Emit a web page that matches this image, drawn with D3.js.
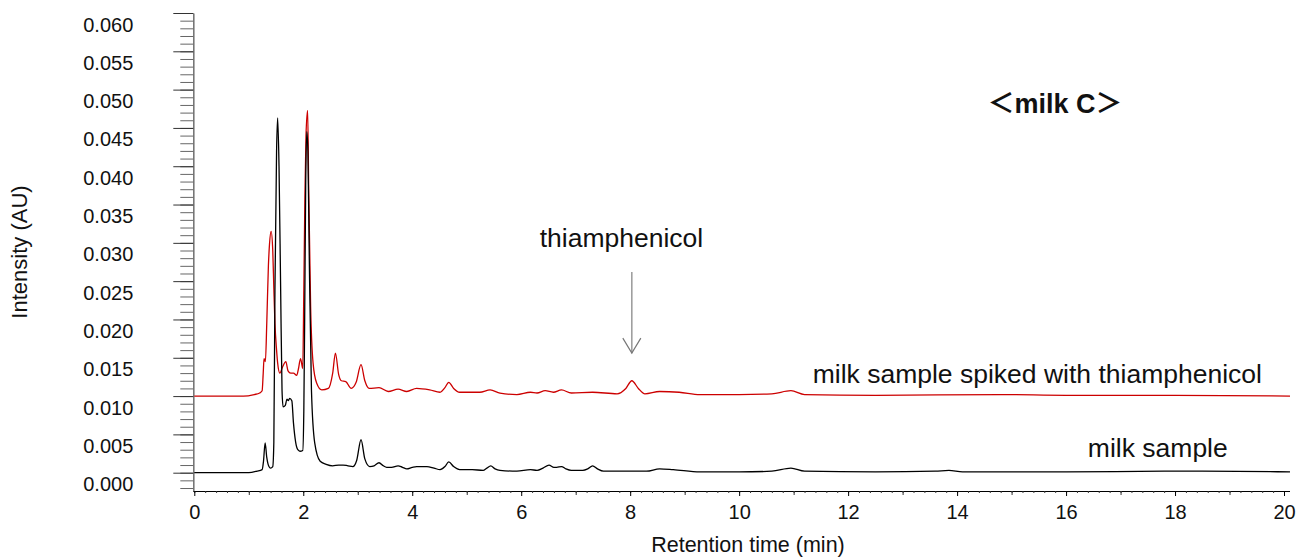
<!DOCTYPE html>
<html>
<head>
<meta charset="utf-8">
<script src="https://cdn.jsdelivr.net/npm/d3@7"></script>
<style>
  body { margin: 0; background: #fff; }
  text { font-family: "Liberation Sans", Arial, "Noto Sans CJK JP", sans-serif; fill: #111; }
</style>
</head>
<body>
<div id="chart"></div>
<script>
// milk sample (black trace)
var sampleTime = [0, 1.0, 1.15, 1.245, 1.27, 1.30, 1.33, 1.37, 1.40, 1.44, 1.46, 1.48, 1.51, 1.53, 1.555, 1.585, 1.61, 1.63, 1.67, 1.70, 1.725, 1.75, 1.79, 1.82, 1.86, 1.90, 1.94, 1.99, 2.01, 2.025, 2.045, 2.065, 2.085, 2.11, 2.15, 2.21, 2.31, 2.42, 2.54, 2.65, 2.73, 2.82, 2.91, 2.98, 3.06, 3.13, 3.22, 3.30, 3.39, 3.47, 3.53, 3.62, 3.74, 3.82, 3.90, 4.00, 4.08, 4.27, 4.40, 4.51, 4.60, 4.67, 4.76, 4.87, 5.10, 5.30, 5.37, 5.44, 5.52, 5.61, 5.92, 6.17, 6.29, 6.40, 6.51, 6.60, 6.65, 6.74, 6.82, 6.92, 7.13, 7.22, 7.31, 7.40, 7.51, 8.06, 8.30, 8.54, 8.79, 9.28, 10.0, 10.6, 10.95, 11.2, 12.5, 13.6, 13.85, 14.1, 16.0, 17.8, 18.5, 20.11];
var sampleAU = [0.0000, 0.0000, 0.0002, 0.0004, 0.0015, 0.0039, 0.0020, 0.0008, 0.0006, 0.0008, 0.0040, 0.0238, 0.0420, 0.0463, 0.0400, 0.0238, 0.0108, 0.0086, 0.0088, 0.0096, 0.0094, 0.0097, 0.0094, 0.0065, 0.0040, 0.0030, 0.0028, 0.0029, 0.0080, 0.0195, 0.0380, 0.0445, 0.0420, 0.0282, 0.0108, 0.0039, 0.0015, 0.0011, 0.0009, 0.0010, 0.0010, 0.0009, 0.0008, 0.0016, 0.0043, 0.0018, 0.0008, 0.0009, 0.0013, 0.0009, 0.0007, 0.0007, 0.0009, 0.0007, 0.0005, 0.0007, 0.0008, 0.0008, 0.0006, 0.0004, 0.0008, 0.0014, 0.0008, 0.0004, 0.0004, 0.0003, 0.0006, 0.0009, 0.0005, 0.0003, 0.0002, 0.0004, 0.0003, 0.0006, 0.0010, 0.0007, 0.0007, 0.0008, 0.0005, 0.0003, 0.0003, 0.0005, 0.0009, 0.0005, 0.0002, 0.0002, 0.0002, 0.0005, 0.0004, 0.0001, 0.0001, 0.0002, 0.0006, 0.0002, 0.0001, 0.0002, 0.0003, 0.0001, 0.0001, 0.0002, 0.0002, 0.0001];

// milk sample spiked with thiamphenicol (red trace)
var spikedTime = [0, 0.9, 1.1, 1.2, 1.245, 1.265, 1.28, 1.305, 1.33, 1.36, 1.38, 1.41, 1.44, 1.46, 1.48, 1.51, 1.53, 1.57, 1.62, 1.68, 1.72, 1.77, 1.82, 1.88, 1.91, 1.95, 1.99, 2.01, 2.03, 2.05, 2.08, 2.10, 2.135, 2.18, 2.245, 2.34, 2.46, 2.54, 2.59, 2.65, 2.70, 2.78, 2.88, 2.97, 3.06, 3.13, 3.21, 3.39, 3.56, 3.74, 3.90, 4.08, 4.32, 4.51, 4.60, 4.67, 4.76, 4.87, 5.24, 5.43, 5.61, 5.92, 6.17, 6.29, 6.44, 6.59, 6.74, 6.92, 7.31, 7.76, 7.92, 8.03, 8.15, 8.27, 8.54, 8.9, 9.28, 10.0, 10.6, 10.95, 11.2, 12.5, 14.8, 16.0, 18.0, 20.11];
var spikedAU = [0.0100, 0.0100, 0.0102, 0.0104, 0.0107, 0.0130, 0.0149, 0.0145, 0.0195, 0.0270, 0.0298, 0.0315, 0.0290, 0.0240, 0.0195, 0.0160, 0.0143, 0.0130, 0.0138, 0.0145, 0.0133, 0.0130, 0.0130, 0.0127, 0.0135, 0.0149, 0.0136, 0.0238, 0.0360, 0.0440, 0.0473, 0.0369, 0.0217, 0.0143, 0.0117, 0.0108, 0.0110, 0.0130, 0.0156, 0.0128, 0.0120, 0.0119, 0.0110, 0.0118, 0.0141, 0.0120, 0.0110, 0.0111, 0.0106, 0.0109, 0.0106, 0.0110, 0.0108, 0.0105, 0.0111, 0.0118, 0.0110, 0.0105, 0.0105, 0.0108, 0.0104, 0.0102, 0.0105, 0.0104, 0.0107, 0.0105, 0.0108, 0.0104, 0.0105, 0.0103, 0.0110, 0.0120, 0.0110, 0.0103, 0.0106, 0.0105, 0.0102, 0.0102, 0.0103, 0.0107, 0.0102, 0.0101, 0.0102, 0.0101, 0.0101, 0.0100];

var xTickLabels = [0, 2, 4, 6, 8, 10, 12, 14, 16, 18, 20];
var yTickLabels = ["0.000", "0.005", "0.010", "0.015", "0.020", "0.025", "0.030", "0.035", "0.040", "0.045", "0.050", "0.055", "0.060"];

var width = 1303, height = 558;

var x = d3.scaleLinear().domain([0, 20.11]).range([194.3, 1290]);
var y = d3.scaleLinear().domain([-0.00235, 0.060]).range([490.7, 13]);

var svg = d3.select("#chart").append("svg")
    .attr("width", width)
    .attr("height", height);

// y axis: minor ticks every 0.001
var yMinor = svg.append("g")
    .attr("transform", "translate(193.3,0)")
    .call(d3.axisLeft(y)
        .tickValues(d3.range(-2, 61).map(function(d){ return d / 1000; }))
        .tickSize(13)
        .tickSizeOuter(0)
        .tickFormat(""));
yMinor.select(".domain").attr("stroke", "#777").attr("stroke-width", 1.6);
yMinor.selectAll(".tick line").attr("stroke", "#666").attr("stroke-width", 1);

// y axis: major ticks and labels
var yMajor = svg.append("g")
    .attr("transform", "translate(193.3,0)")
    .call(d3.axisLeft(y)
        .tickValues(yTickLabels.map(Number))
        .tickSize(20)
        .tickPadding(40)
        .tickFormat(function(d, i){ return yTickLabels[i]; }));
yMajor.select(".domain").remove();
yMajor.selectAll(".tick line").attr("stroke", "#333").attr("stroke-width", 1);
yMajor.selectAll(".tick text")
    .attr("dy", "0.9em")
    .style("font-size", "20px");

// x axis: minor every 0.2, mid at odd minutes, major with labels
var xAxisG = svg.append("g").attr("transform", "translate(0,491)");
xAxisG.append("g")
    .call(d3.axisBottom(x)
        .tickValues(d3.range(0, 101).map(function(d){ return d / 5; }))
        .tickSize(2)
        .tickSizeOuter(0)
        .tickFormat(""))
    .call(function(g){ g.select(".domain").attr("d", "M193.3,0.5H1290").attr("stroke", "#000"); })
    .selectAll(".tick line").attr("stroke", "#333");
xAxisG.append("g")
    .call(d3.axisBottom(x)
        .tickValues([1, 3, 5, 7, 9, 11, 13, 15, 17, 19])
        .tickSize(4)
        .tickFormat(""))
    .call(function(g){ g.select(".domain").remove(); })
    .selectAll(".tick line").attr("stroke", "#333");
var xMajor = xAxisG.append("g")
    .call(d3.axisBottom(x)
        .tickValues(xTickLabels)
        .tickSize(5)
        .tickPadding(9)
        .tickFormat(d3.format("d")));
xMajor.select(".domain").remove();
xMajor.selectAll(".tick line").attr("stroke", "#000");
xMajor.selectAll(".tick text").style("font-size", "20px");

// axis titles
svg.append("text")
    .attr("x", 748)
    .attr("y", 552)
    .attr("text-anchor", "middle")
    .style("font-size", "21.5px")
    .text("Retention time (min)");

svg.append("text")
    .attr("transform", "translate(27,252) rotate(-90)")
    .attr("text-anchor", "middle")
    .style("font-size", "22px")
    .text("Intensity (AU)");

// traces
var line = d3.line()
    .x(function(d){ return x(d[0]); })
    .y(function(d){ return y(d[1]); })
    .curve(d3.curveMonotoneX);

svg.append("path")
    .datum(d3.zip(spikedTime, spikedAU))
    .attr("fill", "none")
    .attr("stroke", "#cc0000")
    .attr("stroke-width", 1.3)
    .attr("d", line);

svg.append("path")
    .datum(d3.zip(sampleTime, sampleAU))
    .attr("fill", "none")
    .attr("stroke", "#000")
    .attr("stroke-width", 1.3)
    .attr("d", line);

// annotations
svg.append("text")
    .attr("x", x(7.84))
    .attr("y", y(0.02945))
    .attr("text-anchor", "middle")
    .style("font-size", "26.5px")
    .text("thiamphenicol");

// arrow to the thiamphenicol peak
var arrowX = x(8.03), arrowTop = y(0.0262), arrowTip = y(0.0156);
svg.append("line")
    .attr("x1", arrowX).attr("x2", arrowX)
    .attr("y1", arrowTop).attr("y2", arrowTip)
    .attr("stroke", "#999").attr("stroke-width", 1.5);
svg.append("path")
    .attr("d", "M" + (arrowX - 9) + "," + (arrowTip - 15) + "L" + arrowX + "," + arrowTip + "L" + (arrowX + 9) + "," + (arrowTip - 15))
    .attr("fill", "none")
    .attr("stroke", "#777").attr("stroke-width", 1.2);

svg.append("text")
    .attr("x", x(11.35))
    .attr("y", y(0.01167))
    .style("font-size", "26.5px")
    .text("milk sample spiked with thiamphenicol");

svg.append("text")
    .attr("x", x(16.40))
    .attr("y", y(0.0020))
    .style("font-size", "26.5px")
    .text("milk sample");

svg.append("text")
    .attr("x", x(14.56))
    .attr("y", y(0.0469))
    .style("font-size", "27px")
    .style("font-weight", "bold")
    .text("＜milk C＞");
</script>
</body>
</html>
